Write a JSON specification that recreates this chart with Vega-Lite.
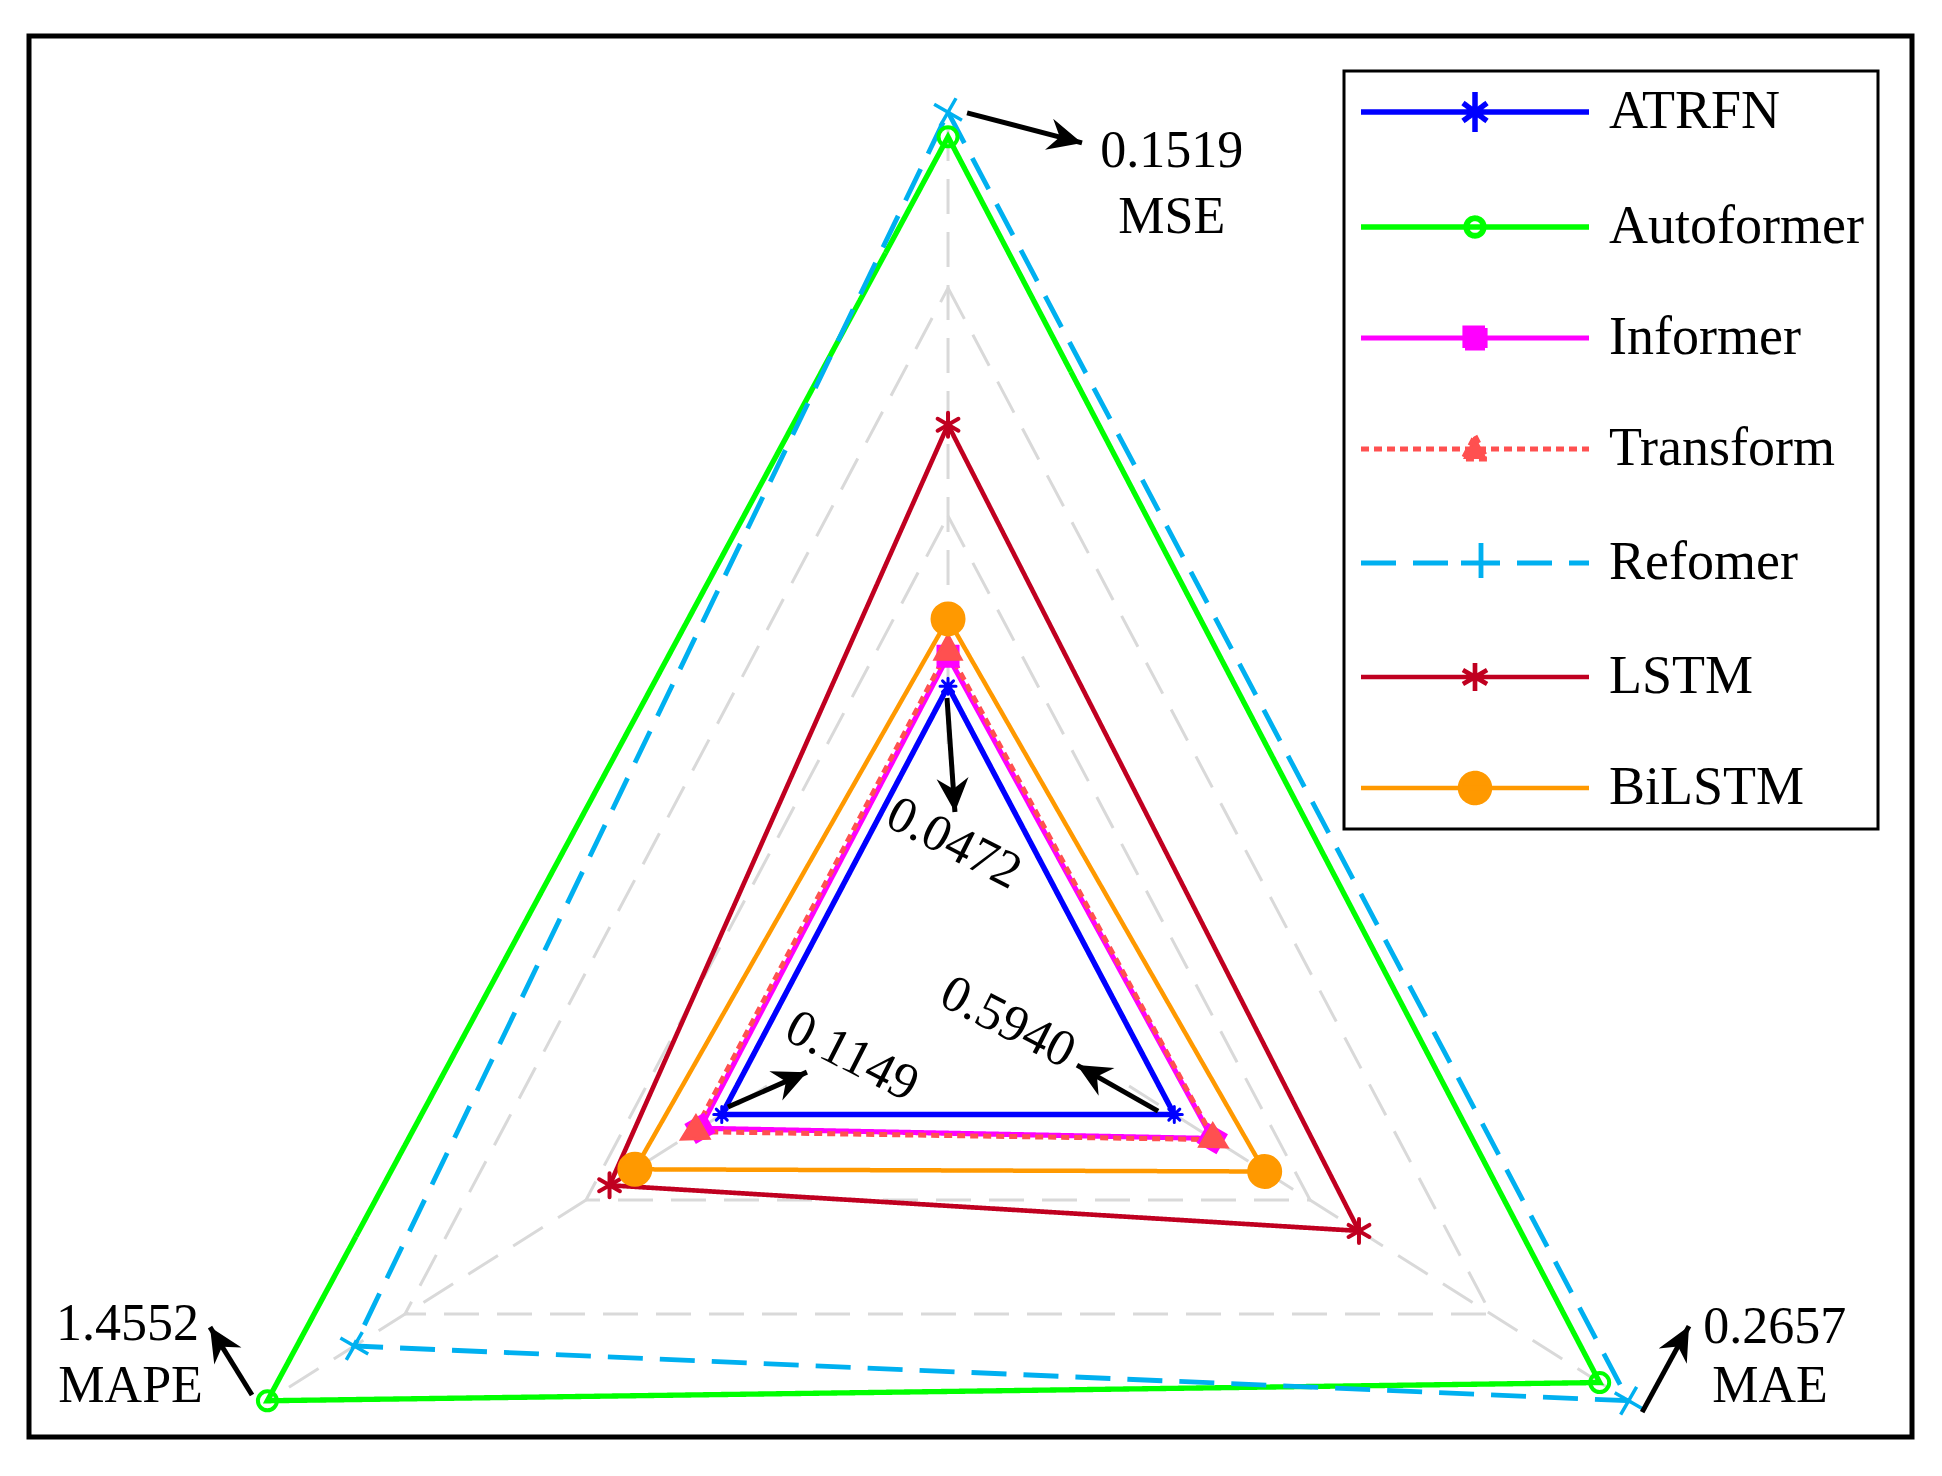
{
  "$schema": "https://vega.github.io/schema/vega-lite/v6.json",
  "width": 1883,
  "height": 1401,
  "autosize": {"type": "none"},
  "padding": {"left": 29, "top": 36, "right": 30, "bottom": 39},
  "background": "white",
  "config": {
    "view": {"stroke": "black", "strokeWidth": 5},
    "font": "Liberation Serif",
    "legend": {
      "orient": "none",
      "legendX": 1315,
      "legendY": 35,
      "labelFont": "Liberation Serif",
      "labelFontSize": 54,
      "labelColor": "black",
      "labelLimit": 500,
      "symbolSize": 4,
      "symbolStrokeWidth": 5,
      "symbolOpacity": 1,
      "labelOffset": 197,
      "padding": 14,
      "rowPadding": 57,
      "strokeColor": "black",
      "strokeWidth": 3,
      "fillColor": "white"
    }
  },
  "datasets": {
    "axes": [
      {"metric": "MSE", "idx": 0, "angle": 90, "lo": -0.0049, "step": 0.04158, "rot": 0, "inner": 1, "outer": 3.77},
      {"metric": "MAE", "idx": 1, "angle": -30, "lo": 0.0398, "step": 0.06008, "rot": 120, "inner": 1, "outer": 3.77},
      {"metric": "MAPE", "idx": 2, "angle": 210, "lo": 0.1651, "step": 0.3431, "rot": 240, "inner": 1, "outer": 3.77}
    ],
    "rings": [
      {"ring": 2, "metric": "MSE"}, {"ring": 2, "metric": "MAE"}, {"ring": 2, "metric": "MAPE"},
      {"ring": 3, "metric": "MSE"}, {"ring": 3, "metric": "MAE"}, {"ring": 3, "metric": "MAPE"}
    ],
    "models": [
      {"model": "ATRFN"}, {"model": "Autoformer"}, {"model": "Informer"}, {"model": "Transform"},
      {"model": "Refomer"}, {"model": "LSTM"}, {"model": "BiLSTM"}
    ],
    "scores": [
      {"model": "ATRFN", "metric": "MSE", "value": 0.0472},
      {"model": "ATRFN", "metric": "MAE", "value": 0.1149},
      {"model": "ATRFN", "metric": "MAPE", "value": 0.5940},
      {"model": "Autoformer", "metric": "MSE", "value": 0.1474},
      {"model": "Autoformer", "metric": "MAE", "value": 0.2561},
      {"model": "Autoformer", "metric": "MAPE", "value": 1.4552},
      {"model": "Informer", "metric": "MSE", "value": 0.0527},
      {"model": "Informer", "metric": "MAE", "value": 0.1275},
      {"model": "Informer", "metric": "MAPE", "value": 0.6351},
      {"model": "Transform", "metric": "MSE", "value": 0.0538},
      {"model": "Transform", "metric": "MAE", "value": 0.1281},
      {"model": "Transform", "metric": "MAPE", "value": 0.6454},
      {"model": "Refomer", "metric": "MSE", "value": 0.1519},
      {"model": "Refomer", "metric": "MAE", "value": 0.2657},
      {"model": "Refomer", "metric": "MAPE", "value": 1.2905},
      {"model": "LSTM", "metric": "MSE", "value": 0.0949},
      {"model": "LSTM", "metric": "MAE", "value": 0.1762},
      {"model": "LSTM", "metric": "MAPE", "value": 0.8067},
      {"model": "BiLSTM", "metric": "MSE", "value": 0.0595},
      {"model": "BiLSTM", "metric": "MAE", "value": 0.1449},
      {"model": "BiLSTM", "metric": "MAPE", "value": 0.7587}
    ],
    "arrows": [
      {"x0": 0.091, "y0": 3.768, "x1": 0.641, "y1": 3.636},
      {"x0": -3.330, "y0": -1.855, "x1": -3.531, "y1": -1.557},
      {"x0": 3.321, "y0": -1.930, "x1": 3.545, "y1": -1.553},
      {"x0": -0.005, "y0": 1.202, "x1": 0.033, "y1": 0.702},
      {"x0": -1.053, "y0": -0.592, "x1": -0.675, "y1": -0.439},
      {"x0": 1.005, "y0": -0.610, "x1": 0.617, "y1": -0.408}
    ],
    "labels": [
      {"label": "0.1519", "x": 1.07, "y": 3.531},
      {"label": "MSE", "x": 1.07, "y": 3.241},
      {"label": "1.4552", "x": -3.926, "y": -1.614},
      {"label": "MAPE", "x": -3.911, "y": -1.886},
      {"label": "0.2657", "x": 3.955, "y": -1.627},
      {"label": "MAE", "x": 3.933, "y": -1.886}
    ],
    "inner": [
      {"label": "0.0472", "x": 0.029, "y": 0.566},
      {"label": "0.1149", "x": -0.459, "y": -0.368},
      {"label": "0.5940", "x": 0.287, "y": -0.219}
    ]
  },
  "layer": [
    {
      "data": {"name": "models"},
      "mark": {"type": "point", "size": 0, "filled": true, "opacity": 1},
      "encoding": {
        "shape": {"field": "model", "type": "nominal", "title": null,
          "scale": {"domain": ["ATRFN", "Autoformer", "Informer", "Transform", "Refomer", "LSTM", "BiLSTM"],
            "range": [
              "M-24,0H204M90,-20V20M78,-9L102,9M78,9L102,-9",
              "M-24,0H204M99,0A9,9 0 1,1 81,0A9,9 0 1,1 99,0ZM98.5,0A8.5,8.5 0 1,0 81.5,0A8.5,8.5 0 1,0 98.5,0Z",
              "M-24,0H204M80,-10H100V10H80Z",
              "M-24,0H204M90,-13L102,10H78Z",
              "M-24,0H204M96,-20V20M76,0H116",
              "M-24,0H204M90,-14V14M77.9,-7L102.1,7M77.9,7L102.1,-7",
              "M-24,0H204M105,0A15,15 0 1,1 75,0A15,15 0 1,1 105,0Z"
            ]}},
        "stroke": {"field": "model", "type": "nominal", "title": null,
          "scale": {"domain": ["ATRFN", "Autoformer", "Informer", "Transform", "Refomer", "LSTM", "BiLSTM"],
            "range": ["#0000FF", "#00FF00", "#FF00FF", "#FF5050", "#00B0F0", "#C00020", "#FF9900"]}},
        "fill": {"field": "model", "type": "nominal", "title": null,
          "scale": {"domain": ["ATRFN", "Autoformer", "Informer", "Transform", "Refomer", "LSTM", "BiLSTM"],
            "range": ["#0000FF", "#00FF00", "#FF00FF", "#FF5050", "#00B0F0", "#C00020", "#FF9900"]}},
        "strokeDash": {"field": "model", "type": "nominal", "title": null,
          "scale": {"domain": ["ATRFN", "Autoformer", "Informer", "Transform", "Refomer", "LSTM", "BiLSTM"],
            "range": [[1, 0], [1, 0], [1, 0], [8, 5], [35, 17], [1, 0], [1, 0]]}}
      }
    },
    {
      "data": {"name": "rings"},
      "transform": [
        {"lookup": "metric", "from": {"data": {"name": "axes"}, "key": "metric", "fields": ["angle", "idx"]}},
        {"calculate": "datum.ring * cos(datum.angle * PI / 180)", "as": "x"},
        {"calculate": "datum.ring * sin(datum.angle * PI / 180)", "as": "y"}
      ],
      "mark": {"type": "line", "interpolate": "linear-closed", "stroke": "#D9D9D9", "strokeWidth": 3, "strokeDash": [35, 18]},
      "encoding": {
        "x": {"field": "x", "type": "quantitative", "scale": {"domain": [-4.397, 4.612], "nice": false, "zero": false}, "axis": null},
        "y": {"field": "y", "type": "quantitative", "scale": {"domain": [-2.039, 4.105], "nice": false, "zero": false}, "axis": null},
        "detail": {"field": "ring", "type": "nominal"},
        "order": {"field": "idx", "type": "quantitative"}
      }
    },
    {
      "data": {"name": "axes"},
      "transform": [
        {"calculate": "datum.inner * cos(datum.angle * PI / 180)", "as": "xa"},
        {"calculate": "datum.inner * sin(datum.angle * PI / 180)", "as": "ya"},
        {"calculate": "datum.outer * cos(datum.angle * PI / 180)", "as": "xb"},
        {"calculate": "datum.outer * sin(datum.angle * PI / 180)", "as": "yb"}
      ],
      "mark": {"type": "rule", "stroke": "#D9D9D9", "strokeWidth": 3, "strokeDash": [35, 18]},
      "encoding": {
        "x": {"field": "xa", "type": "quantitative", "scale": {"domain": [-4.397, 4.612], "nice": false, "zero": false}, "axis": null},
        "y": {"field": "ya", "type": "quantitative", "scale": {"domain": [-2.039, 4.105], "nice": false, "zero": false}, "axis": null},
        "x2": {"field": "xb"},
        "y2": {"field": "yb"}
      }
    },
    {
      "data": {"name": "scores"},
      "transform": [
        {"lookup": "metric", "from": {"data": {"name": "axes"}, "key": "metric", "fields": ["angle", "idx", "lo", "step", "rot"]}},
        {"calculate": "(datum.value - datum.lo) / datum.step", "as": "r"},
        {"calculate": "datum.r * cos(datum.angle * PI / 180)", "as": "x"},
        {"calculate": "datum.r * sin(datum.angle * PI / 180)", "as": "y"}
      ],
      "mark": {"type": "line", "interpolate": "linear-closed", "strokeJoin": "miter", "strokeCap": "butt", "opacity": 1},
      "encoding": {
        "x": {"field": "x", "type": "quantitative", "scale": {"domain": [-4.397, 4.612], "nice": false, "zero": false}, "axis": null},
        "y": {"field": "y", "type": "quantitative", "scale": {"domain": [-2.039, 4.105], "nice": false, "zero": false}, "axis": null},
        "stroke": {"field": "model", "type": "nominal", "title": null,
          "scale": {"domain": ["ATRFN", "Autoformer", "Informer", "Transform", "Refomer", "LSTM", "BiLSTM"],
            "range": ["#0000FF", "#00FF00", "#FF00FF", "#FF5050", "#00B0F0", "#C00020", "#FF9900"]}},
        "strokeDash": {"field": "model", "type": "nominal", "title": null,
          "scale": {"domain": ["ATRFN", "Autoformer", "Informer", "Transform", "Refomer", "LSTM", "BiLSTM"],
            "range": [[1, 0], [1, 0], [1, 0], [8, 5], [35, 17], [1, 0], [1, 0]]}},
        "strokeWidth": {"field": "model", "type": "nominal", "title": null,
          "scale": {"domain": ["ATRFN", "Autoformer", "Informer", "Transform", "Refomer", "LSTM", "BiLSTM"],
            "range": [5.5, 4.5, 5, 4.5, 4.5, 4.5, 4.5]}},
        "order": {"field": "idx", "type": "quantitative"}
      }
    },
    {
      "data": {"name": "scores"},
      "transform": [
        {"filter": "datum.model === 'ATRFN'"},
        {"lookup": "metric", "from": {"data": {"name": "axes"}, "key": "metric", "fields": ["angle", "lo", "step", "rot"]}},
        {"calculate": "(datum.value - datum.lo) / datum.step", "as": "r"},
        {"calculate": "datum.r * cos(datum.angle * PI / 180)", "as": "x"},
        {"calculate": "datum.r * sin(datum.angle * PI / 180)", "as": "y"}
      ],
      "mark": {"type": "point", "size": 4, "filled": false, "stroke": "#0000FF", "strokeWidth": 3, "strokeCap": "round", "opacity": 1,
        "shape": "M0,-8V8M-8,0H8M-5.5,-5.5L5.5,5.5M-5.5,5.5L5.5,-5.5"},
      "encoding": {
        "x": {"field": "x", "type": "quantitative", "scale": {"domain": [-4.397, 4.612], "nice": false, "zero": false}, "axis": null},
        "y": {"field": "y", "type": "quantitative", "scale": {"domain": [-2.039, 4.105], "nice": false, "zero": false}, "axis": null}
      }
    },
    {
      "data": {"name": "scores"},
      "transform": [
        {"filter": "datum.model === 'Autoformer'"},
        {"lookup": "metric", "from": {"data": {"name": "axes"}, "key": "metric", "fields": ["angle", "lo", "step", "rot"]}},
        {"calculate": "(datum.value - datum.lo) / datum.step", "as": "r"},
        {"calculate": "datum.r * cos(datum.angle * PI / 180)", "as": "x"},
        {"calculate": "datum.r * sin(datum.angle * PI / 180)", "as": "y"}
      ],
      "mark": {"type": "point", "size": 4, "filled": false, "stroke": "#00FF00", "strokeWidth": 4, "opacity": 1,
        "shape": "M9.5,0A9.5,9.5 0 1,1 -9.5,0A9.5,9.5 0 1,1 9.5,0Z"},
      "encoding": {
        "x": {"field": "x", "type": "quantitative", "scale": {"domain": [-4.397, 4.612], "nice": false, "zero": false}, "axis": null},
        "y": {"field": "y", "type": "quantitative", "scale": {"domain": [-2.039, 4.105], "nice": false, "zero": false}, "axis": null}
      }
    },
    {
      "data": {"name": "scores"},
      "transform": [
        {"filter": "datum.model === 'Informer'"},
        {"lookup": "metric", "from": {"data": {"name": "axes"}, "key": "metric", "fields": ["angle", "lo", "step", "rot"]}},
        {"calculate": "(datum.value - datum.lo) / datum.step", "as": "r"},
        {"calculate": "datum.r * cos(datum.angle * PI / 180)", "as": "x"},
        {"calculate": "datum.r * sin(datum.angle * PI / 180)", "as": "y"}
      ],
      "mark": {"type": "point", "size": 4, "filled": true, "fill": "#FF00FF", "stroke": "#FF00FF", "strokeWidth": 3, "strokeJoin": "miter", "opacity": 1,
        "shape": "M-10,-10H10V10H-10Z"},
      "encoding": {
        "x": {"field": "x", "type": "quantitative", "scale": {"domain": [-4.397, 4.612], "nice": false, "zero": false}, "axis": null},
        "y": {"field": "y", "type": "quantitative", "scale": {"domain": [-2.039, 4.105], "nice": false, "zero": false}, "axis": null},
        "angle": {"field": "rot", "type": "quantitative", "scale": null}
      }
    },
    {
      "data": {"name": "scores"},
      "transform": [
        {"filter": "datum.model === 'Transform'"},
        {"lookup": "metric", "from": {"data": {"name": "axes"}, "key": "metric", "fields": ["angle", "lo", "step", "rot"]}},
        {"calculate": "(datum.value - datum.lo) / datum.step", "as": "r"},
        {"calculate": "datum.r * cos(datum.angle * PI / 180)", "as": "x"},
        {"calculate": "datum.r * sin(datum.angle * PI / 180)", "as": "y"}
      ],
      "mark": {"type": "point", "size": 4, "filled": true, "fill": "#FF5050", "stroke": "#FF5050", "strokeWidth": 3, "strokeJoin": "miter", "opacity": 1,
        "shape": "M0,-15L13,9H-13Z"},
      "encoding": {
        "x": {"field": "x", "type": "quantitative", "scale": {"domain": [-4.397, 4.612], "nice": false, "zero": false}, "axis": null},
        "y": {"field": "y", "type": "quantitative", "scale": {"domain": [-2.039, 4.105], "nice": false, "zero": false}, "axis": null},
        "angle": {"field": "rot", "type": "quantitative", "scale": null}
      }
    },
    {
      "data": {"name": "scores"},
      "transform": [
        {"filter": "datum.model === 'Refomer'"},
        {"lookup": "metric", "from": {"data": {"name": "axes"}, "key": "metric", "fields": ["angle", "lo", "step", "rot"]}},
        {"calculate": "(datum.value - datum.lo) / datum.step", "as": "r"},
        {"calculate": "datum.r * cos(datum.angle * PI / 180)", "as": "x"},
        {"calculate": "datum.r * sin(datum.angle * PI / 180)", "as": "y"}
      ],
      "mark": {"type": "point", "size": 4, "filled": false, "stroke": "#00B0F0", "strokeWidth": 3.5, "opacity": 1,
        "shape": "M-13.9,-8L13.9,8M8,-13.9L-8,13.9"},
      "encoding": {
        "x": {"field": "x", "type": "quantitative", "scale": {"domain": [-4.397, 4.612], "nice": false, "zero": false}, "axis": null},
        "y": {"field": "y", "type": "quantitative", "scale": {"domain": [-2.039, 4.105], "nice": false, "zero": false}, "axis": null}
      }
    },
    {
      "data": {"name": "scores"},
      "transform": [
        {"filter": "datum.model === 'LSTM'"},
        {"lookup": "metric", "from": {"data": {"name": "axes"}, "key": "metric", "fields": ["angle", "lo", "step", "rot"]}},
        {"calculate": "(datum.value - datum.lo) / datum.step", "as": "r"},
        {"calculate": "datum.r * cos(datum.angle * PI / 180)", "as": "x"},
        {"calculate": "datum.r * sin(datum.angle * PI / 180)", "as": "y"}
      ],
      "mark": {"type": "point", "size": 4, "filled": false, "stroke": "#C00020", "strokeWidth": 4, "strokeCap": "round", "opacity": 1,
        "shape": "M0,-12V12M-10.4,-6L10.4,6M-10.4,6L10.4,-6"},
      "encoding": {
        "x": {"field": "x", "type": "quantitative", "scale": {"domain": [-4.397, 4.612], "nice": false, "zero": false}, "axis": null},
        "y": {"field": "y", "type": "quantitative", "scale": {"domain": [-2.039, 4.105], "nice": false, "zero": false}, "axis": null}
      }
    },
    {
      "data": {"name": "scores"},
      "transform": [
        {"filter": "datum.model === 'BiLSTM'"},
        {"lookup": "metric", "from": {"data": {"name": "axes"}, "key": "metric", "fields": ["angle", "lo", "step", "rot"]}},
        {"calculate": "(datum.value - datum.lo) / datum.step", "as": "r"},
        {"calculate": "datum.r * cos(datum.angle * PI / 180)", "as": "x"},
        {"calculate": "datum.r * sin(datum.angle * PI / 180)", "as": "y"}
      ],
      "mark": {"type": "point", "size": 4, "filled": true, "fill": "#FF9900", "stroke": "#FF9900", "strokeWidth": 3, "opacity": 1,
        "shape": "M16,0A16,16 0 1,1 -16,0A16,16 0 1,1 16,0Z"},
      "encoding": {
        "x": {"field": "x", "type": "quantitative", "scale": {"domain": [-4.397, 4.612], "nice": false, "zero": false}, "axis": null},
        "y": {"field": "y", "type": "quantitative", "scale": {"domain": [-2.039, 4.105], "nice": false, "zero": false}, "axis": null}
      }
    },
    {
      "data": {"name": "arrows"},
      "mark": {"type": "rule", "stroke": "black", "strokeWidth": 5},
      "encoding": {
        "x": {"field": "x0", "type": "quantitative", "scale": {"domain": [-4.397, 4.612], "nice": false, "zero": false}, "axis": null},
        "y": {"field": "y0", "type": "quantitative", "scale": {"domain": [-2.039, 4.105], "nice": false, "zero": false}, "axis": null},
        "x2": {"field": "x1"},
        "y2": {"field": "y1"}
      }
    },
    {
      "data": {"name": "arrows"},
      "transform": [
        {"calculate": "atan2((datum.x1 - datum.x0) * 209, (datum.y1 - datum.y0) * 228) * 180 / PI", "as": "ang"}
      ],
      "mark": {"type": "point", "shape": "M0,0L-16,34L0,23L16,34Z", "size": 4, "filled": true, "fill": "black", "strokeWidth": 0, "opacity": 1},
      "encoding": {
        "x": {"field": "x1", "type": "quantitative", "scale": {"domain": [-4.397, 4.612], "nice": false, "zero": false}, "axis": null},
        "y": {"field": "y1", "type": "quantitative", "scale": {"domain": [-2.039, 4.105], "nice": false, "zero": false}, "axis": null},
        "angle": {"field": "ang", "type": "quantitative", "scale": null}
      }
    },
    {
      "data": {"name": "labels"},
      "mark": {"type": "text", "font": "Liberation Serif", "fontSize": 52, "color": "black", "align": "center", "baseline": "alphabetic"},
      "encoding": {
        "x": {"field": "x", "type": "quantitative", "scale": {"domain": [-4.397, 4.612], "nice": false, "zero": false}, "axis": null},
        "y": {"field": "y", "type": "quantitative", "scale": {"domain": [-2.039, 4.105], "nice": false, "zero": false}, "axis": null},
        "text": {"field": "label"}
      }
    },
    {
      "data": {"name": "inner"},
      "mark": {"type": "text", "font": "Liberation Serif", "fontSize": 52, "color": "black", "align": "center", "baseline": "middle", "angle": 27},
      "encoding": {
        "x": {"field": "x", "type": "quantitative", "scale": {"domain": [-4.397, 4.612], "nice": false, "zero": false}, "axis": null},
        "y": {"field": "y", "type": "quantitative", "scale": {"domain": [-2.039, 4.105], "nice": false, "zero": false}, "axis": null},
        "text": {"field": "label"}
      }
    }
  ]
}
